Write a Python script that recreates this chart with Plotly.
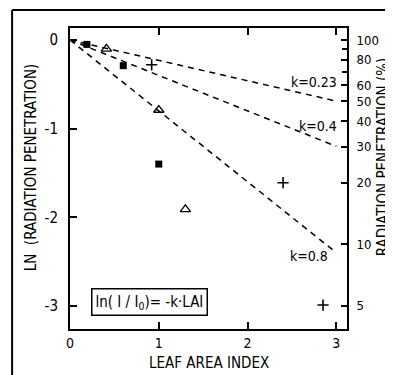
import numpy as np
import plotly.graph_objects as go

# Data
lai_square = [0.19, 0.60, 1.00]
ln_square = [-0.05, -0.29, -1.40]
lai_triangle = [0.41, 1.00, 1.30]
ln_triangle = [-0.10, -0.79, -1.91]
lai_cross = [0.92, 2.40, 2.85]
ln_cross = [-0.28, -1.61, -2.99]

k_values = [0.23, 0.4, 0.8]
k_labels = ["k=0.23", "k=0.4", "k=0.8"]
lai_line = [0.0, 3.0]

x_ticks = [0, 1, 2, 3]
y_ticks = [0, -1, -2, -3]
pct_ticks = [100, 80, 60, 50, 40, 30, 20, 10, 5]
pct_labels = ["100", "80", "60", "50", "40", "30", "20", "10", "5"]
pct_minor = [90, 70]

FONT = "Liberation Sans Narrow, DejaVu Sans Condensed, Arial Narrow, sans-serif"

fig = go.Figure()

for k in k_values:
    fig.add_trace(go.Scatter(
        x=lai_line, y=[-k * v for v in lai_line], mode="lines",
        line=dict(color="black", width=1.5, dash="6px,5px"),
        showlegend=False, hoverinfo="skip"))

fig.add_trace(go.Scatter(x=lai_square, y=ln_square, mode="markers",
                         marker=dict(symbol="square", size=7, color="black"),
                         showlegend=False))
fig.add_trace(go.Scatter(x=lai_triangle, y=ln_triangle, mode="markers",
                         marker=dict(symbol="triangle-up-open", size=9, color="black",
                                     line=dict(width=1.3)),
                         showlegend=False))
fig.add_trace(go.Scatter(x=lai_cross, y=ln_cross, mode="markers",
                         marker=dict(symbol="cross-thin-open", size=8, color="black",
                                     line=dict(width=1.6, color="black")),
                         showlegend=False))
# invisible traces to activate the right axes
fig.add_trace(go.Scatter(x=[0], y=[0], yaxis="y2", mode="markers",
                         marker=dict(opacity=0), showlegend=False, hoverinfo="skip"))
fig.add_trace(go.Scatter(x=[0], y=[0], yaxis="y3", mode="markers",
                         marker=dict(opacity=0), showlegend=False, hoverinfo="skip"))

label_pos = [(3.03, -0.47), (3.03, -0.97), (2.93, -2.44)]
for (lx, ly), txt in zip(label_pos, k_labels):
    fig.add_annotation(x=lx, y=ly, text=txt, showarrow=False, xanchor="right",
                       yanchor="middle", font=dict(family=FONT, size=14, color="black"))

fig.add_annotation(x=0.9, y=-2.95, text="ln( I / I<sub>0</sub>)= -k·LAI", showarrow=False,
                   xanchor="center", yanchor="middle",
                   font=dict(family=FONT, size=15, color="black"),
                   bordercolor="black", borderwidth=1.5, borderpad=3, bgcolor="white")

# axis titles (placed as annotations for exact placement)
fig.add_annotation(xref="paper", yref="paper", x=0.5, y=-0.112, text="LEAF AREA INDEX",
                   showarrow=False, xanchor="center", yanchor="middle",
                   font=dict(family=FONT, size=15, color="black"))
fig.add_annotation(xref="paper", yref="paper", x=-0.141, y=0.537,
                   text="LN  (RADIATION PENETRATION)", textangle=-90,
                   showarrow=False, xanchor="center", yanchor="middle",
                   font=dict(family=FONT, size=15, color="black"))
fig.add_annotation(xref="paper", yref="paper", x=1.129, y=0.573,
                   text="RADIATION PENETRATION (%)", textangle=-90,
                   showarrow=False, xanchor="center", yanchor="middle",
                   font=dict(family=FONT, size=15, color="black"))

yr = [-3.26, 0.135]
# the page body has an 8px margin, so the figure is sized to fill the rest
fig.update_layout(
    width=385, height=367,
    margin=dict(l=62, r=46, t=20, b=46, autoexpand=False),
    paper_bgcolor="white", plot_bgcolor="white",
    font=dict(family=FONT, size=14, color="black"),
    xaxis=dict(range=[0, 3.12], tickvals=x_ticks, ticks="inside", ticklen=7,
               tickwidth=1.5, tickcolor="black", showline=True, linewidth=2,
               linecolor="black", mirror="ticks", showgrid=False, zeroline=False,
               automargin=False, tickfont=dict(size=14)),
    yaxis=dict(range=yr, tickvals=y_ticks, ticktext=["0", "-1", "-2", "-3"],
               ticks="inside", ticklen=7, tickwidth=1.5, tickcolor="black",
               ticklabelstandoff=7, tickfont=dict(size=15),
               showline=True, linewidth=2, linecolor="black", showgrid=False,
               zeroline=False, automargin=False),
    yaxis2=dict(range=yr, overlaying="y", side="right",
                tickvals=[float(np.log(p / 100)) for p in pct_ticks],
                ticktext=pct_labels, ticks="inside", ticklen=6, tickwidth=1.5,
                tickcolor="black", ticklabelstandoff=5, tickfont=dict(size=13),
                showline=True, linewidth=2, linecolor="black",
                showgrid=False, zeroline=False, automargin=False),
    yaxis3=dict(range=yr, overlaying="y", side="right",
                tickvals=[float(np.log(p / 100)) for p in pct_minor],
                showticklabels=False, ticks="inside", ticklen=5, tickwidth=1.5,
                tickcolor="black", showline=False, showgrid=False,
                zeroline=False, automargin=False),
)

# outer frame of the figure panel
fig.add_shape(type="line", xref="paper", yref="paper", x0=-0.209, x1=1.2, y0=1.06, y1=1.06,
              line=dict(color="black", width=2))
fig.add_shape(type="line", xref="paper", yref="paper", x0=-0.209, x1=-0.209, y0=-0.2, y1=1.06,
              line=dict(color="black", width=2))

fig.write_html("out.html")
